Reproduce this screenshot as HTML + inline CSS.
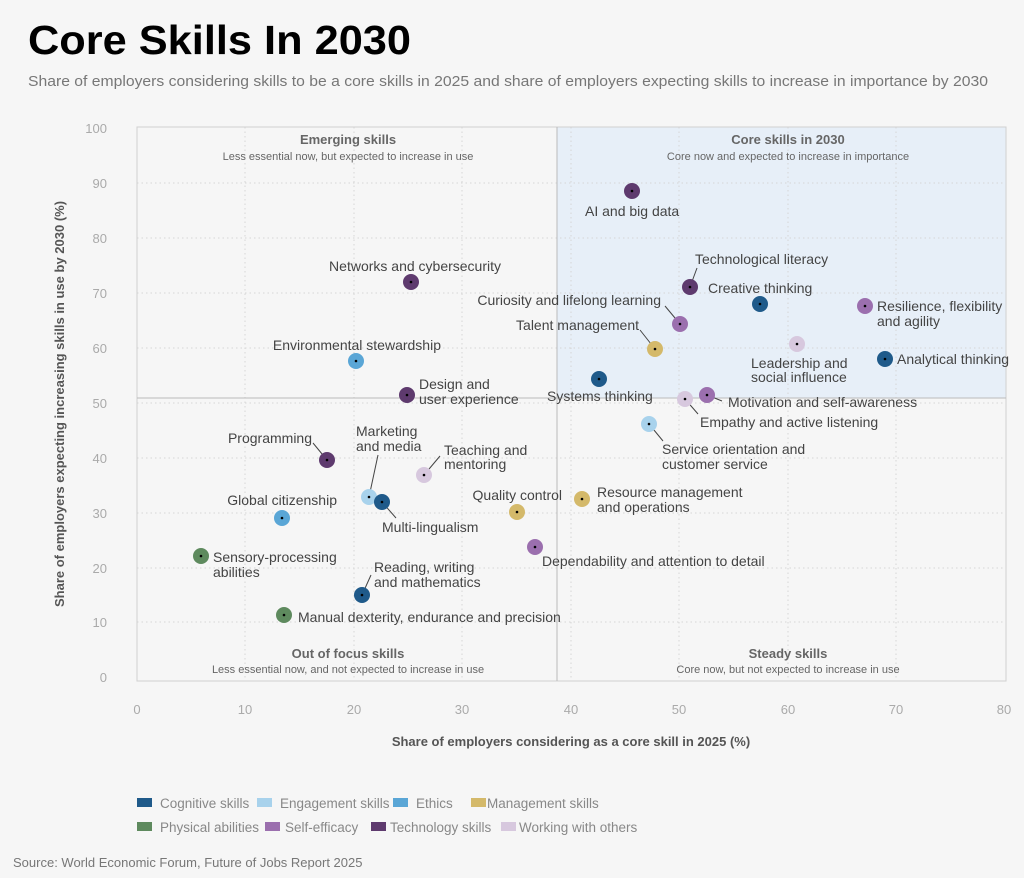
<!DOCTYPE html>
<html><head><meta charset="utf-8"><style>
html,body{margin:0;padding:0;background:#f6f6f6;}
svg{display:block;font-family:"Liberation Sans",sans-serif;}
</style></head><body>
<svg width="1024" height="878" viewBox="0 0 1024 878">
<rect width="1024" height="878" fill="#f6f6f6"/>
<text x="28" y="54" font-size="41" font-weight="bold" fill="#000" textLength="383" lengthAdjust="spacingAndGlyphs">Core Skills In 2030</text>
<text x="28" y="86" font-size="15" fill="#777" textLength="960" lengthAdjust="spacingAndGlyphs">Share of employers considering skills to be a core skills in 2025 and share of employers expecting skills to increase in importance by 2030</text>
<rect x="557" y="127" width="449" height="271" fill="#e7eff8"/>
<g stroke="#d6d6d6" stroke-dasharray="1.5,3" stroke-width="1">
<line x1="245" y1="127" x2="245" y2="681"/><line x1="354" y1="127" x2="354" y2="681"/><line x1="462" y1="127" x2="462" y2="681"/><line x1="571" y1="127" x2="571" y2="681"/><line x1="679" y1="127" x2="679" y2="681"/><line x1="788" y1="127" x2="788" y2="681"/><line x1="896" y1="127" x2="896" y2="681"/>
<line x1="137" y1="183" x2="1006" y2="183"/><line x1="137" y1="238" x2="1006" y2="238"/><line x1="137" y1="293" x2="1006" y2="293"/><line x1="137" y1="348" x2="1006" y2="348"/><line x1="137" y1="403" x2="1006" y2="403"/><line x1="137" y1="458" x2="1006" y2="458"/><line x1="137" y1="513" x2="1006" y2="513"/><line x1="137" y1="568" x2="1006" y2="568"/><line x1="137" y1="622" x2="1006" y2="622"/>
</g>
<rect x="137" y="127" width="869" height="554" fill="none" stroke="#d0d0d0"/>
<line x1="557" y1="127" x2="557" y2="681" stroke="#bbb"/>
<line x1="137" y1="398" x2="1006" y2="398" stroke="#bbb"/>
<g font-size="13" fill="#aaa" text-anchor="end">
<text x="107" y="133">100</text><text x="107" y="188">90</text><text x="107" y="243">80</text><text x="107" y="298">70</text><text x="107" y="353">60</text><text x="107" y="408">50</text><text x="107" y="463">40</text><text x="107" y="518">30</text><text x="107" y="573">20</text><text x="107" y="627">10</text><text x="107" y="682">0</text>
</g>
<g font-size="13" fill="#aaa" text-anchor="middle">
<text x="137" y="714">0</text><text x="245" y="714">10</text><text x="354" y="714">20</text><text x="462" y="714">30</text><text x="571" y="714">40</text><text x="679" y="714">50</text><text x="788" y="714">60</text><text x="896" y="714">70</text><text x="1004" y="714">80</text>
</g>
<text x="571" y="746" font-size="13" font-weight="bold" fill="#555" text-anchor="middle">Share of employers considering as a core skill in 2025 (%)</text>
<text transform="translate(64,404) rotate(-90)" font-size="13" font-weight="bold" fill="#555" text-anchor="middle">Share of employers expecting increasing skills in use by 2030 (%)</text>
<g text-anchor="middle" fill="#666">
<text x="348" y="144" font-size="13" font-weight="bold">Emerging skills</text>
<text x="348" y="160" font-size="11">Less essential now, but expected to increase in use</text>
<text x="788" y="144" font-size="13" font-weight="bold">Core skills in 2030</text>
<text x="788" y="160" font-size="11">Core now and expected to increase in importance</text>
<text x="348" y="658" font-size="13" font-weight="bold">Out of focus skills</text>
<text x="348" y="673" font-size="11">Less essential now, and not expected to increase in use</text>
<text x="788" y="658" font-size="13" font-weight="bold">Steady skills</text>
<text x="788" y="673" font-size="11">Core now, but not expected to increase in use</text>
</g>
<g stroke="#444" stroke-width="1">
<line x1="690" y1="287" x2="697" y2="268"/>
<line x1="680" y1="324" x2="665" y2="306"/>
<line x1="655" y1="349" x2="640" y2="330"/>
<line x1="707" y1="395" x2="722" y2="401"/>
<line x1="685" y1="399" x2="698" y2="414"/>
<line x1="649" y1="424" x2="663" y2="441"/>
<line x1="327" y1="460" x2="313" y2="443"/>
<line x1="369" y1="497" x2="378" y2="455"/>
<line x1="382" y1="502" x2="396" y2="518"/>
<line x1="424" y1="475" x2="440" y2="456"/>
<line x1="362" y1="595" x2="371" y2="575"/>
</g>
<g stroke="none">
<circle cx="632" cy="191" r="8" fill="#5e3a6e"/>
<circle cx="690" cy="287" r="8" fill="#5e3a6e"/>
<circle cx="760" cy="304" r="8" fill="#1f5a8a"/>
<circle cx="680" cy="324" r="8" fill="#9b6fae"/>
<circle cx="655" cy="349" r="8" fill="#d4b96a"/>
<circle cx="865" cy="306" r="8" fill="#9b6fae"/>
<circle cx="797" cy="344" r="8" fill="#d7c8de"/>
<circle cx="885" cy="359" r="8" fill="#1f5a8a"/>
<circle cx="599" cy="379" r="8" fill="#1f5a8a"/>
<circle cx="685" cy="399" r="8" fill="#d7c8de"/>
<circle cx="707" cy="395" r="8" fill="#9b6fae"/>
<circle cx="411" cy="282" r="8" fill="#5e3a6e"/>
<circle cx="356" cy="361" r="8" fill="#5aa6d6"/>
<circle cx="407" cy="395" r="8" fill="#5e3a6e"/>
<circle cx="649" cy="424" r="8" fill="#a8d2ec"/>
<circle cx="327" cy="460" r="8" fill="#5e3a6e"/>
<circle cx="369" cy="497" r="8" fill="#a8d2ec"/>
<circle cx="382" cy="502" r="8" fill="#1f5a8a"/>
<circle cx="424" cy="475" r="8" fill="#d7c8de"/>
<circle cx="282" cy="518" r="8" fill="#5aa6d6"/>
<circle cx="517" cy="512" r="8" fill="#d4b96a"/>
<circle cx="582" cy="499" r="8" fill="#d4b96a"/>
<circle cx="535" cy="547" r="8" fill="#9b6fae"/>
<circle cx="201" cy="556" r="8" fill="#5e8a5e"/>
<circle cx="362" cy="595" r="8" fill="#1f5a8a"/>
<circle cx="284" cy="615" r="8" fill="#5e8a5e"/>
</g>
<g fill="#000">
<circle cx="632" cy="191" r="1.3"/><circle cx="690" cy="287" r="1.3"/><circle cx="760" cy="304" r="1.3"/><circle cx="680" cy="324" r="1.3"/><circle cx="655" cy="349" r="1.3"/><circle cx="865" cy="306" r="1.3"/><circle cx="797" cy="344" r="1.3"/><circle cx="885" cy="359" r="1.3"/><circle cx="599" cy="379" r="1.3"/><circle cx="685" cy="399" r="1.3"/><circle cx="707" cy="395" r="1.3"/><circle cx="411" cy="282" r="1.3"/><circle cx="356" cy="361" r="1.3"/><circle cx="407" cy="395" r="1.3"/><circle cx="649" cy="424" r="1.3"/><circle cx="327" cy="460" r="1.3"/><circle cx="369" cy="497" r="1.3"/><circle cx="382" cy="502" r="1.3"/><circle cx="424" cy="475" r="1.3"/><circle cx="282" cy="518" r="1.3"/><circle cx="517" cy="512" r="1.3"/><circle cx="582" cy="499" r="1.3"/><circle cx="535" cy="547" r="1.3"/><circle cx="201" cy="556" r="1.3"/><circle cx="362" cy="595" r="1.3"/><circle cx="284" cy="615" r="1.3"/>
</g>
<g font-size="14" fill="#444">
<text x="585" y="216">AI and big data</text>
<text x="695" y="264">Technological literacy</text>
<text x="708" y="293">Creative thinking</text>
<text x="661" y="305" text-anchor="end">Curiosity and lifelong learning</text>
<text x="639" y="330" text-anchor="end">Talent management</text>
<text x="877" y="311">Resilience, flexibility</text>
<text x="877" y="326">and agility</text>
<text x="751" y="368">Leadership and</text>
<text x="751" y="382">social influence</text>
<text x="897" y="364">Analytical thinking</text>
<text x="547" y="401">Systems thinking</text>
<text x="728" y="407">Motivation and self-awareness</text>
<text x="700" y="427">Empathy and active listening</text>
<text x="662" y="454">Service orientation and</text>
<text x="662" y="469">customer service</text>
<text x="501" y="271" text-anchor="end">Networks and cybersecurity</text>
<text x="441" y="350" text-anchor="end">Environmental stewardship</text>
<text x="419" y="389">Design and</text>
<text x="419" y="404">user experience</text>
<text x="312" y="443" text-anchor="end">Programming</text>
<text x="356" y="436">Marketing</text>
<text x="356" y="451">and media</text>
<text x="444" y="455">Teaching and</text>
<text x="444" y="469">mentoring</text>
<text x="337" y="505" text-anchor="end">Global citizenship</text>
<text x="562" y="500" text-anchor="end">Quality control</text>
<text x="597" y="497">Resource management</text>
<text x="597" y="512">and operations</text>
<text x="382" y="532">Multi-lingualism</text>
<text x="542" y="566">Dependability and attention to detail</text>
<text x="213" y="562">Sensory-processing</text>
<text x="213" y="577">abilities</text>
<text x="374" y="572">Reading, writing</text>
<text x="374" y="587">and mathematics</text>
<text x="298" y="622">Manual dexterity, endurance and precision</text>
</g>
<g font-size="13.5" fill="#888">
<rect x="137" y="798" width="15" height="9" fill="#1f5a8a"/><text x="160" y="808">Cognitive skills</text>
<rect x="257" y="798" width="15" height="9" fill="#a8d2ec"/><text x="280" y="808">Engagement skills</text>
<rect x="393" y="798" width="15" height="9" fill="#5aa6d6"/><text x="416" y="808">Ethics</text>
<rect x="471" y="798" width="15" height="9" fill="#d4b96a"/><text x="487" y="808">Management skills</text>
<rect x="137" y="822" width="15" height="9" fill="#5e8a5e"/><text x="160" y="832">Physical abilities</text>
<rect x="265" y="822" width="15" height="9" fill="#9b6fae"/><text x="285" y="832">Self-efficacy</text>
<rect x="371" y="822" width="15" height="9" fill="#5e3a6e"/><text x="390" y="832">Technology skills</text>
<rect x="501" y="822" width="15" height="9" fill="#d7c8de"/><text x="519" y="832">Working with others</text>
</g>
<text x="13" y="867" font-size="13" fill="#777">Source: World Economic Forum, Future of Jobs Report 2025</text>
</svg>
</body></html>
